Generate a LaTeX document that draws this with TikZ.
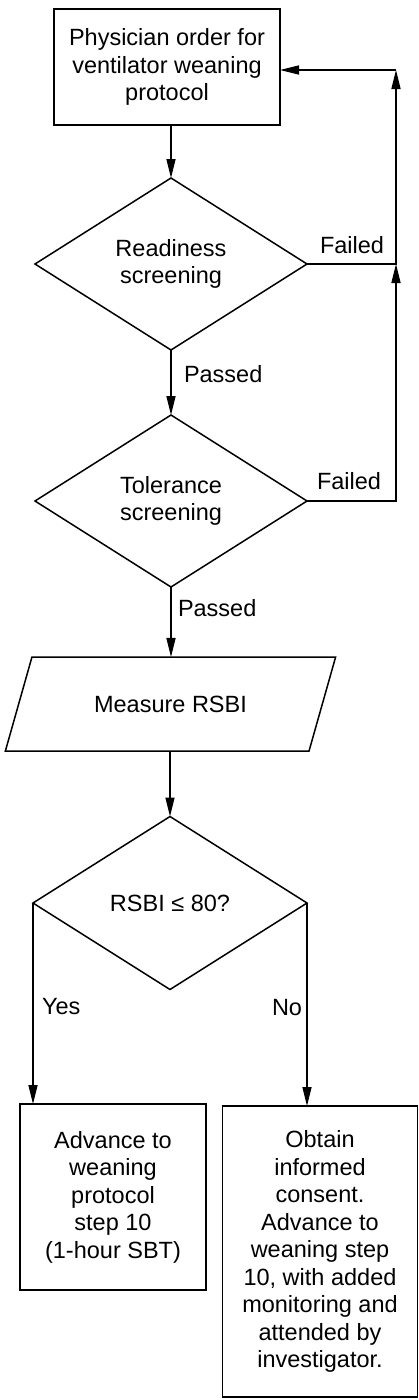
\documentclass[tikz,border=0pt]{standalone}
\usepackage{fontspec}
\setmainfont{Liberation Sans}
\usetikzlibrary{shapes.geometric,arrows.meta}
\begin{document}
\begin{tikzpicture}[x=1pt,y=-1pt,
  every node/.style={font=\fontsize{23.5}{27.5}\selectfont, inner sep=0pt, outer sep=0pt},
  box/.style={draw, line width=1.5pt, align=center},
  dec/.style={draw, diamond, aspect=1.58, minimum width=272pt, minimum height=172pt, align=center, line width=1.5pt},
  io/.style={draw, trapezium, trapezium left angle=48.6, trapezium right angle=131.4, trapezium stretches=true, minimum width=331pt, minimum height=94pt, line width=1.5pt},
  arr/.style={draw, line width=1.5pt, -{Triangle[length=19pt,width=9pt]}},
  lbl/.style={anchor=base west}
]
\useasboundingbox (0,0) rectangle (419,1400);
\node[box, minimum width=226pt, minimum height=116pt] (order) at (167,67) {Physician order for\\ventilator weaning\\protocol};
\node[dec] (ready) at (171,264) {Readiness\\screening};
\node[dec] (toler) at (171,501) {Tolerance\\screening};
\node[io] (rsbi) at (170.5,704) {Measure RSBI};
\node[dec, minimum width=274pt, minimum height=173pt] (check) at (170,903) {RSBI ≤ 80?};
\node[box, minimum width=186pt, minimum height=186pt] (yesbox) at (113,1197) {Advance to\\weaning\\protocol\\step 10\\(1-hour SBT)};
\node[box, minimum width=195pt, minimum height=291pt] (nobox) at (320,1251.5) {Obtain\\informed\\consent.\\Advance to\\weaning step\\10, with added\\monitoring and\\attended by\\investigator.};

\coordinate (c1) at (396,264);
\coordinate (c2) at (396,70);
\coordinate (c3) at (396,501);

\draw[arr] (order.south -| ready.north) -- (ready.north);
\draw[arr] (ready.south) -- (toler.north);
\draw[arr] (toler.south) -- (toler.south |- rsbi.north);
\draw[arr] (check.north |- rsbi.south) -- (check.north);
\draw[arr] (check.west) -- (check.west |- yesbox.north);
\draw[arr] (check.east) -- (check.east |- nobox.north);
\draw[arr] (ready.east) -- (c1) -- (c2);
\draw[arr] (c2) -- (order.east |- c2);
\draw[arr] (toler.east) -- (c3) -- (c1);

\node[lbl] (f1) at (320,253) {Failed};
\node[lbl] (f2) at (317,489) {Failed};
\node[lbl] (p1) at (184,382) {Passed};
\node[lbl] (p2) at (178,616) {Passed};
\node[lbl] (yes) at (42,1014) {Yes};
\node[lbl] (no) at (272,1015) {No};
\end{tikzpicture}
\end{document}
